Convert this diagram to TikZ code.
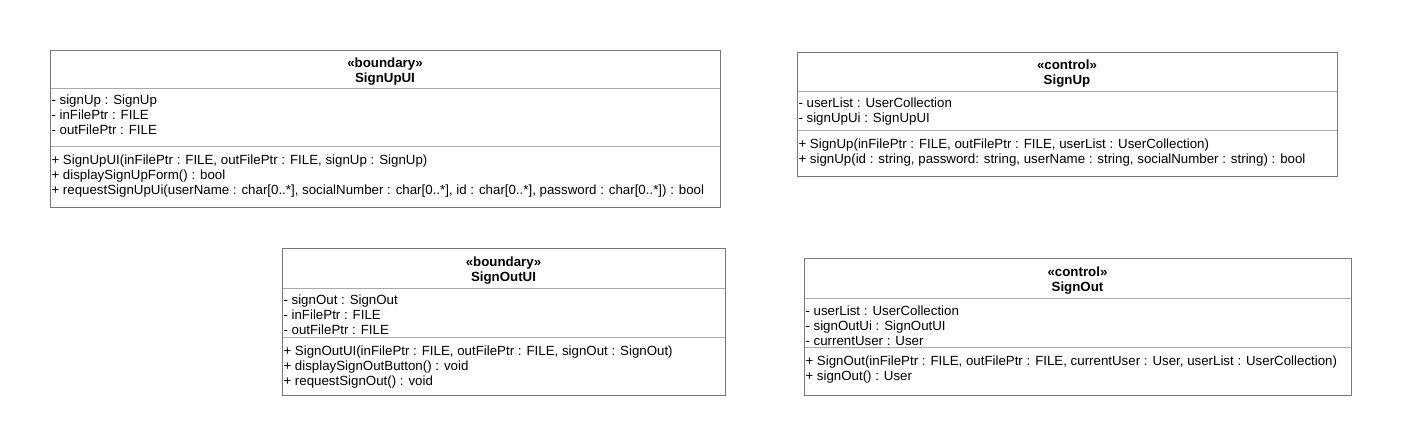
\documentclass[tikz,border=0pt]{standalone}
\usepackage{fontspec}
\setmainfont{Liberation Sans}
\definecolor{bordc}{RGB}{120,120,120}
\definecolor{divc}{RGB}{170,170,170}
\newcommand{\mstrut}{\rule[-5pt]{0pt}{15pt}}
\tikzset{
  part/.style={draw=divc, line width=1pt, inner sep=0pt, outer sep=0pt, anchor=north west, minimum width=#1},
  title/.style={font=\fontsize{13.3}{15}\selectfont\bfseries, align=center, inner sep=0pt},
  members/.style={font=\fontsize{13.3}{15}\selectfont, align=left, inner sep=0pt, outer sep=0pt, anchor=north west},
  frame/.style={draw=bordc, line width=1pt}
}
\begin{document}
\begin{tikzpicture}[x=1pt,y=-1pt]
\fill[white] (0,0) rectangle (1402,447);
\useasboundingbox (0,0) rectangle (1402,447);

% SignUpUI
\node[part=670, minimum height=38] (suh) at (50,50) {};
\node[part=670, minimum height=58] (sua) at (suh.south west) {};
\node[part=670, minimum height=61] (suo) at (sua.south west) {};
\draw[frame] (suh.north west) rectangle (suo.south east);
\node[title] (sutt) at ([yshift=-2.5pt]suh.center) {«boundary»\\SignUpUI};
\node[members] (suat) at ([xshift=1.5pt, yshift=-6.5pt]sua.north west) {\mstrut- signUp : SignUp\\\mstrut- inFilePtr : FILE\\\mstrut- outFilePtr : FILE};
\node[members] (suot) at ([xshift=1.5pt, yshift=-8pt]suo.north west) {\mstrut+ SignUpUI(inFilePtr : FILE, outFilePtr : FILE, signUp : SignUp)\\\mstrut+ displaySignUpForm() : bool\\\mstrut+ requestSignUpUi(userName : char[0..*], socialNumber : char[0..*], id : char[0..*], password : char[0..*]) : bool};

% SignUp
\node[part=540, minimum height=39] (sch) at (797,52) {};
\node[part=540, minimum height=39] (sca) at (sch.south west) {};
\node[part=540, minimum height=46] (sco) at (sca.south west) {};
\draw[frame] (sch.north west) rectangle (sco.south east);
\node[title] (sctt) at ([yshift=-2.5pt]sch.center) {«control»\\SignUp};
\node[members] (scat) at ([xshift=1.5pt, yshift=-6.5pt]sca.north west) {\mstrut- userList : UserCollection\\\mstrut- signUpUi : SignUpUI};
\node[members] (scot) at ([xshift=1.5pt, yshift=-8pt]sco.north west) {\mstrut+ SignUp(inFilePtr : FILE, outFilePtr : FILE, userList : UserCollection)\\\mstrut+ signUp(id : string, password: string, userName : string, socialNumber : string) : bool};

% SignOutUI
\node[part=443, minimum height=40] (soh) at (282,248) {};
\node[part=443, minimum height=49] (soa) at (soh.south west) {};
\node[part=443, minimum height=58] (soo) at (soa.south west) {};
\draw[frame] (soh.north west) rectangle (soo.south east);
\node[title] (sott) at ([yshift=-2.5pt]soh.center) {«boundary»\\SignOutUI};
\node[members] (soat) at ([xshift=1.5pt, yshift=-6.5pt]soa.north west) {\mstrut- signOut : SignOut\\\mstrut- inFilePtr : FILE\\\mstrut- outFilePtr : FILE};
\node[members] (soot) at ([xshift=1.5pt, yshift=-8pt]soo.north west) {\mstrut+ SignOutUI(inFilePtr : FILE, outFilePtr : FILE, signOut : SignOut)\\\mstrut+ displaySignOutButton() : void\\\mstrut+ requestSignOut() : void};

% SignOut
\node[part=547, minimum height=40] (sxh) at (804,258) {};
\node[part=547, minimum height=49] (sxa) at (sxh.south west) {};
\node[part=547, minimum height=48] (sxo) at (sxa.south west) {};
\draw[frame] (sxh.north west) rectangle (sxo.south east);
\node[title] (sxtt) at ([yshift=-2.5pt]sxh.center) {«control»\\SignOut};
\node[members] (sxat) at ([xshift=1.5pt, yshift=-7.5pt]sxa.north west) {\mstrut- userList : UserCollection\\\mstrut- signOutUi : SignOutUI\\\mstrut- currentUser : User};
\node[members] (sxot) at ([xshift=1.5pt, yshift=-8pt]sxo.north west) {\mstrut+ SignOut(inFilePtr : FILE, outFilePtr : FILE, currentUser : User, userList : UserCollection)\\\mstrut+ signOut() : User};
\end{tikzpicture}
\end{document}
